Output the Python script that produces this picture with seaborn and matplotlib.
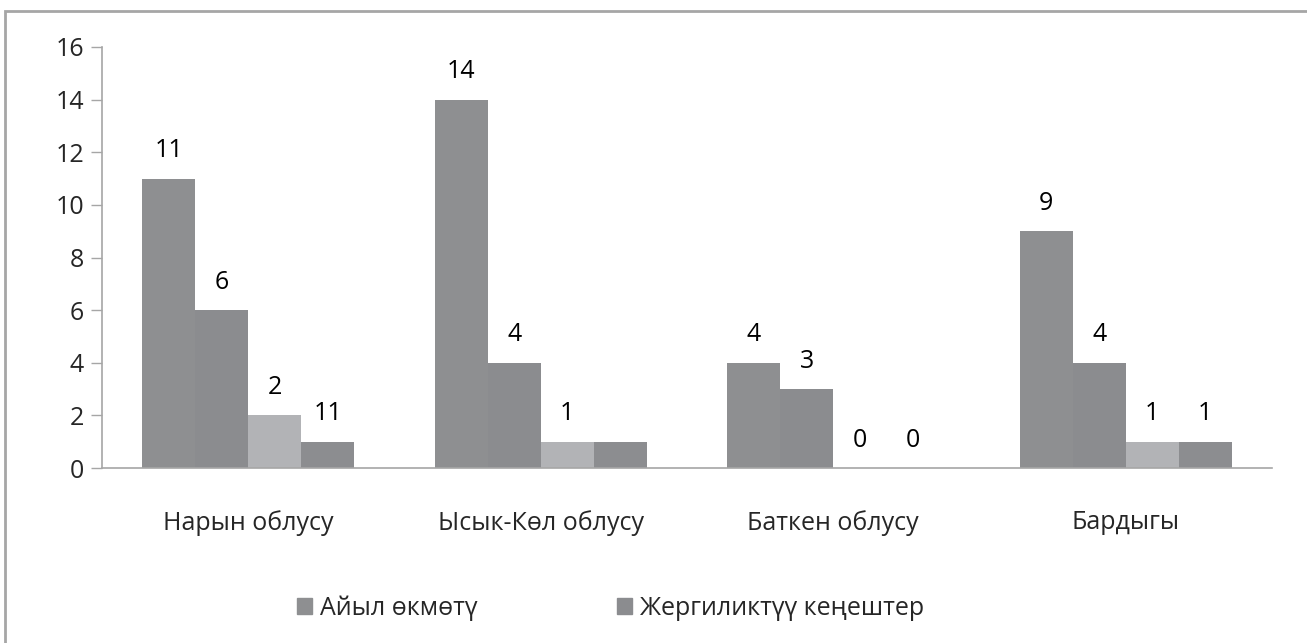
import matplotlib
matplotlib.use("Agg")
import matplotlib.pyplot as plt
import matplotlib.patches as mpatches
import seaborn as sns
import pandas as pd

# chart data
regions = ["Нарын облусу", "Ысык-Көл облусу", "Баткен облусу", "Бардыгы"]
series = ["Айыл өкмөтү", "Жергиликтүү кеңештер", "Катар 3", "Катар 4"]
values = {
    "Айыл өкмөтү": [11, 14, 4, 9],
    "Жергиликтүү кеңештер": [6, 4, 3, 4],
    "Катар 3": [2, 1, 0, 1],
    "Катар 4": [1, 1, 0, 1],
}
# labels as printed above each bar (one label is missing in the source)
bar_texts = {
    "Айыл өкмөтү": ["11", "14", "4", "9"],
    "Жергиликтүү кеңештер": ["6", "4", "3", "4"],
    "Катар 3": ["2", "1", "0", "1"],
    "Катар 4": ["11", "", "0", "1"],
}
legend_series = ["Айыл өкмөтү", "Жергиликтүү кеңештер"]
colors = ["#8e8f91", "#8b8c8f", "#b2b3b6", "#8c8d90"]

rows = []
for s in series:
    for r, v in zip(regions, values[s]):
        rows.append({"region": r, "series": s, "value": v})
df = pd.DataFrame(rows)

sns.set_style("white")
plt.rcParams["font.family"] = ["Open Sans", "DejaVu Sans"]
fs = 18

fig = plt.figure(figsize=(13.07, 6.43), dpi=100)
ax = fig.add_axes([102 / 1307, 1 - 468 / 643, 1170 / 1307, 421 / 643])

sns.barplot(data=df, x="region", y="value", hue="series", hue_order=series,
            palette=colors, saturation=1, width=0.725, legend=False, ax=ax,
            edgecolor="none", linewidth=0)

for cont, s in zip(ax.containers, series):
    ax.bar_label(cont, labels=bar_texts[s], padding=11, fontsize=fs, color="black")

ax.set_ylim(0, 16)
ax.set_xlim(-0.5, 3.5)
ax.set_yticks(range(0, 17, 2))
ax.set_xticks([-0.5, 0.5, 1.5, 2.5, 3.5], minor=False)
ax.set_xticklabels([])
ax.set_xticks(range(4), minor=True)
ax.set_xticklabels(regions, minor=True)
ax.tick_params(axis="x", which="major", direction="out", length=10, width=1, color="#a6a6a6")
ax.tick_params(axis="x", which="minor", length=0, pad=30, labelsize=fs)
ax.tick_params(axis="y", direction="out", length=8, width=1, color="#a6a6a6",
               labelsize=fs, pad=5, left=True)
ax.set_xlabel("")
ax.set_ylabel("")

for side in ["top", "right"]:
    ax.spines[side].set_visible(False)
for side in ["left", "bottom"]:
    ax.spines[side].set_color("#a6a6a6")
    ax.spines[side].set_linewidth(1.2)

handles = [mpatches.Patch(color=colors[series.index(s)], label=s) for s in legend_series]
fig.legend(handles=handles, loc="center left", bbox_to_anchor=(297 / 1307, 1 - 608 / 643),
           ncol=2, frameon=False, fontsize=fs, handlelength=0.6, handleheight=0.6,
           handletextpad=0.3, columnspacing=5.6, borderpad=0, borderaxespad=0)

# outer chart frame (only top and left edges show in the crop)
fig.patches.append(mpatches.Rectangle((5 / 1307, -0.1), 1.2, 1 - 11 / 643 + 0.1,
                                      transform=fig.transFigure, fill=False,
                                      edgecolor="#a6a6a6", linewidth=2))

fig.savefig("out.png", dpi=100)
